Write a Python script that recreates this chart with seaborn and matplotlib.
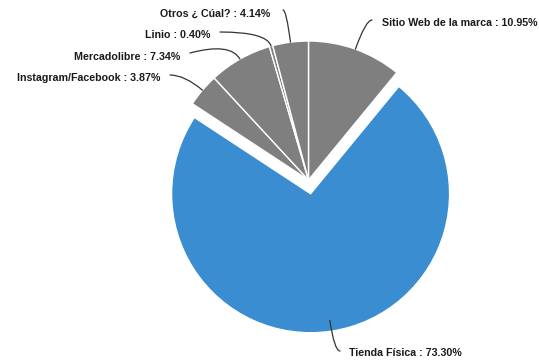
import numpy as np
import matplotlib
matplotlib.use("Agg")
import matplotlib.pyplot as plt
import seaborn as sns

# Purchase channel shares (percent), clockwise from 12 o'clock
channels = ["Sitio Web de la marca", "Tienda Física", "Instagram/Facebook",
            "Mercadolibre", "Linio", "Otros ¿ Cúal?"]
shares = [10.95, 73.30, 3.87, 7.34, 0.40, 4.14]

sns.set_theme(style="white")
plt.rcParams["font.family"] = ["Liberation Sans", "DejaVu Sans"]

W, H = 539, 362
fig = plt.figure(figsize=(W / 100, H / 100), dpi=100)
ax = fig.add_axes([0, 0, 1, 1])

grey = "#7f7f7f"
blue = "#3a8dd0"
colors = [grey, blue, grey, grey, grey, grey]

center = (308.5, H - 180.0)
radius = 139
# pull the in-store slice out (offset in data units, ~10% of the radius)
explode = [0, 0.1 * radius, 0, 0, 0, 0]

wedges, _ = ax.pie(shares, colors=colors, explode=explode, startangle=90,
                   counterclock=False, center=center, radius=radius,
                   wedgeprops=dict(edgecolor="white", linewidth=1.0))

ax.set_xlim(0, W)
ax.set_ylim(0, H)
ax.set_aspect("equal")
ax.axis("off")

# label layout: text anchor (x, y from top), alignment, leader end (x, y from top), end angle
layout = [
    ((382, 23), "left", (372, 20), 0, 0),
    ((349, 353), "left", (340, 351), 0, 3),
    ((160, 78), "right", (170, 75), 0, 0),
    ((180, 57), "right", (190, 53), 15, 0),
    ((210, 35), "right", (220, 32), 0, 0),
    ((270, 14), "right", (283, 10), 0, 0),
]

for wedge, name, val, (tpos, ha, lend, angA, extra) in zip(wedges, channels, shares, layout):
    mid = np.deg2rad((wedge.theta1 + wedge.theta2) / 2)
    r = radius + extra
    # leaders start on the rim of the un-exploded pie
    ex = center[0] + r * np.cos(mid)
    ey = center[1] + r * np.sin(mid)
    angB = np.rad2deg(mid)
    ax.annotate("", xy=(ex, ey), xytext=(lend[0], H - lend[1]),
                arrowprops=dict(arrowstyle="-", color="#333333", lw=0.9,
                                shrinkA=0, shrinkB=0,
                                connectionstyle=f"angle3,angleA={angA},angleB={angB:.2f}"))
    ax.text(tpos[0], H - tpos[1], f"{name} : {val:.2f}%", ha=ha, va="center",
            fontsize=7.7, fontweight="bold", color="#1a1a1a")

fig.savefig("out.png", dpi=100, facecolor="white")
